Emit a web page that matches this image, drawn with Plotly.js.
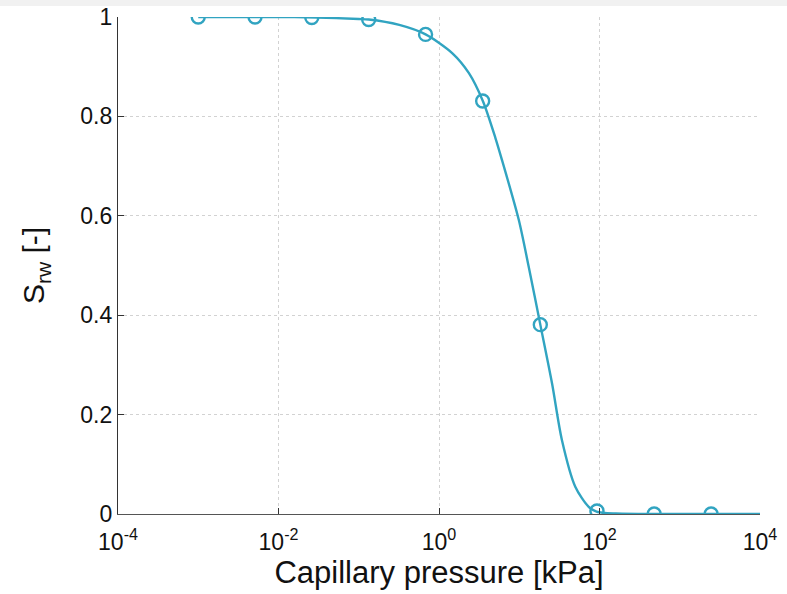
<!DOCTYPE html>
<html>
<head>
<meta charset="utf-8">
<script src="https://cdn.plot.ly/plotly-3.0.1.min.js"></script>
<style>
  html, body { margin: 0; padding: 0; background: #ffffff; }
  #band { position: absolute; left: 0; top: 0; width: 787px; height: 6px; background: #f1f1f1; z-index: 5; }
  #chart { position: absolute; left: 0; top: 0; width: 787px; height: 594px; }
</style>
</head>
<body>
<div id="chart"></div>
<div id="band"></div>
<script>
// Capillary pressure [kPa] and saturation
const curvePressure = [0.001, 0.01, 0.03, 0.1, 0.133, 0.32, 0.68, 1.47, 2.36, 3.52, 5.06, 6.1, 9.86, 13.1, 18.3, 25.6, 34.0, 49.9, 72.9, 91.8, 160, 1000, 10000];
const curveSaturation = [1.0, 1.0, 0.999, 0.996, 0.995, 0.984, 0.965, 0.927, 0.887, 0.831, 0.756, 0.712, 0.592, 0.498, 0.381, 0.263, 0.149, 0.055, 0.015, 0.005, 0.001, 0.0, 0.0];

const markerPressure = [0.001, 0.0051, 0.026, 0.133, 0.68, 3.5, 18.3, 93, 480, 2460];
const markerSaturation = [1.0, 1.0, 0.999, 0.995, 0.965, 0.831, 0.381, 0.006, 0.0, 0.0];

const xTickVals = [1e-4, 1e-2, 1, 1e2, 1e4];
const xTickText = ['10<sup>-4</sup>', '10<sup>-2</sup>', '10<sup>0</sup>', '10<sup>2</sup>', '10<sup>4</sup>'];
const yTickVals = [0, 0.2, 0.4, 0.6, 0.8, 1];
const yTickText = ['0', '0.2', '0.4', '0.6', '0.8', '1'];

const lineColor = '#31a4c1';

const traces = [
  {
    x: curvePressure, y: curveSaturation, type: 'scatter', mode: 'lines',
    line: { color: lineColor, width: 2.4, shape: 'spline', smoothing: 0.8 },
    hoverinfo: 'skip', showlegend: false
  },
  {
    x: markerPressure, y: markerSaturation, type: 'scatter', mode: 'markers',
    marker: { symbol: 'circle-open', size: 13, color: lineColor, line: { color: lineColor, width: 2.4 } },
    showlegend: false
  }
];

const fontFam = 'Liberation Sans, Arial, Helvetica, sans-serif';

const layout = {
  width: 787, height: 594,
  paper_bgcolor: '#ffffff', plot_bgcolor: '#ffffff',
  margin: { l: 118, r: 27, t: 17, b: 80 },
  font: { family: fontFam, color: '#111111', size: 22 },
  xaxis: {
    type: 'log', range: [-4, 4],
    tickvals: xTickVals, ticktext: xTickText,
    ticks: 'inside', ticklen: 6, tickwidth: 1, tickcolor: '#333333',
    ticklabelstandoff: 7,
    showline: true, linecolor: '#555555', linewidth: 1.2,
    showgrid: true, gridcolor: '#d2d2d2', griddash: 'dot', gridwidth: 1,
    zeroline: false, mirror: false,
    tickfont: { size: 23, family: fontFam, color: '#111111' },
    title: { text: 'Capillary pressure [kPa]', font: { size: 31, family: fontFam, color: '#111111' }, standoff: 2 }
  },
  yaxis: {
    range: [0, 1],
    tickvals: yTickVals, ticktext: yTickText,
    ticks: 'inside', ticklen: 6, tickwidth: 1, tickcolor: '#333333',
    showline: true, linecolor: '#333333', linewidth: 1.2,
    showgrid: true, gridcolor: '#d2d2d2', griddash: 'dot', gridwidth: 1,
    zeroline: false, mirror: false,
    tickfont: { size: 23, family: fontFam, color: '#111111' },
    title: { text: 'S<sub>rw</sub> [-]', font: { size: 30, family: fontFam, color: '#111111' }, standoff: 26 }
  }
};

Plotly.newPlot('chart', traces, layout, { displayModeBar: false, staticPlot: true });
</script>
</body>
</html>
